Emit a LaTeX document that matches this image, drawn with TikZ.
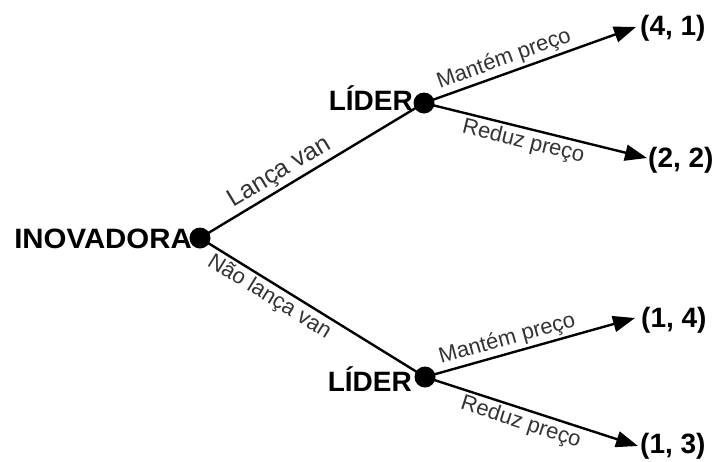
\documentclass[tikz,border=0pt]{standalone}
\usepackage{fontspec}
\setmainfont{Liberation Sans}
\usetikzlibrary{arrows.meta}
\definecolor{lbl}{HTML}{333333}
\tikzset{
  dot/.style={circle,fill=black,inner sep=0pt,minimum size=21pt},
  player/.style={font=\fontsize{28}{28}\selectfont\bfseries,inner sep=0pt},
  payoff/.style={font=\fontsize{28}{28}\selectfont\bfseries,inner sep=0pt,anchor=west},
  branch/.style={line width=2.4pt,black},
  arr/.style={branch,-{Triangle[length=22pt,width=16pt]}},
  act/.style={font=\fontsize{22}{22}\selectfont,text=lbl,sloped,inner sep=2.5pt},
  bigact/.style={font=\fontsize{25}{25}\selectfont,text=lbl,sloped,inner sep=2.5pt}
}
\begin{document}
\begin{tikzpicture}[x=1pt,y=-1pt]
\useasboundingbox (0,0) rectangle (717,461);
\node[dot] (root) at (200,238) {};
\node[dot] (l1) at (424,103) {};
\node[dot] (l2) at (425,377) {};
\node[player,anchor=east] (inov) at (192,239) {\scalebox{1.05}[1]{INOVADORA}};
\node[player,anchor=east] (lid1) at (413,98) {LÍDER};
\node[player,anchor=east] (lid2) at (412,379) {LÍDER};
\coordinate (t1) at (636,27);
\coordinate (t2) at (647,158);
\coordinate (t3) at (635,318);
\coordinate (t4) at (638,446);
\node[payoff] (p1) at (640,28) {(4, 1)};
\node[payoff] (p2) at (648,160) {(2, 2)};
\node[payoff] (p3) at (641,320) {(1, 4)};
\node[payoff] (p4) at (640,446) {(1, 3)};
\draw[branch] (root.center) -- node[bigact,above,pos=0.39] (a1) {Lança van} (l1.center);
\draw[branch] (root.center) -- node[act,below,pos=0.34] (a2) {Não lança van} (l2.center);
\draw[arr] (l1.center) -- node[act,above,pos=0.40] (a3) {Mantém preço} (t1);
\draw[arr] (l1.center) -- node[act,below,pos=0.46] (a4) {Reduz preço} (t2);
\draw[arr] (l2.center) -- node[act,above,pos=0.41] (a5) {Mantém preço} (t3);
\draw[arr] (l2.center) -- node[act,below,pos=0.47] (a6) {Reduz preço} (t4);
\end{tikzpicture}
\end{document}
